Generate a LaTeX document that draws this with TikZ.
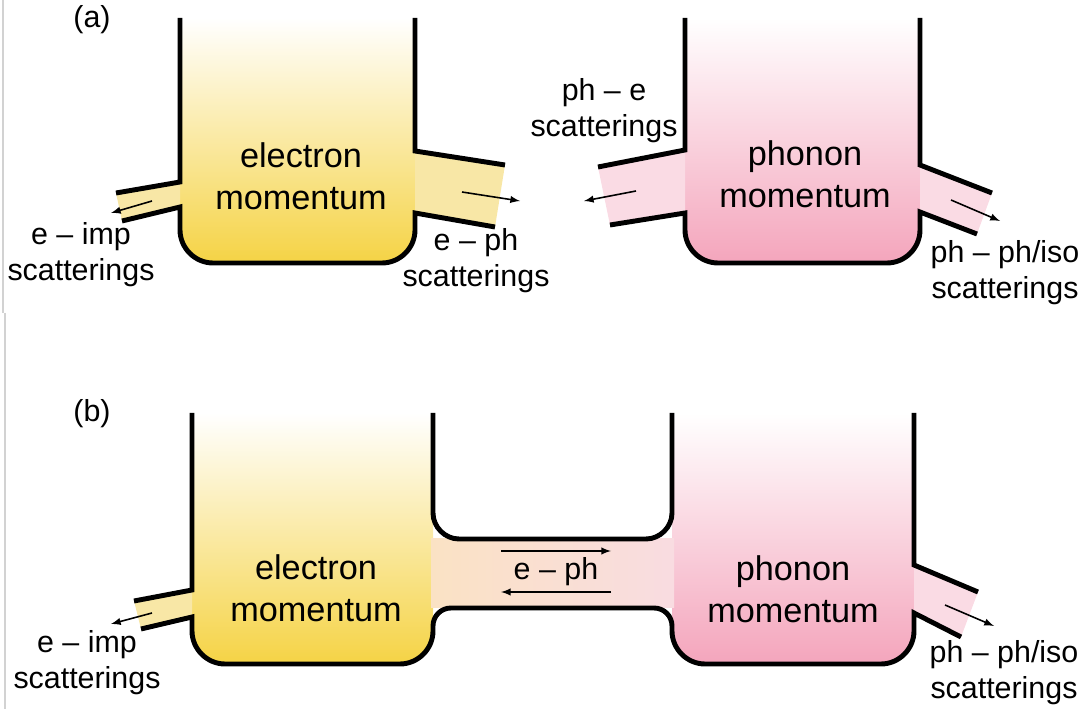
\documentclass[tikz,border=0pt]{standalone}
\usepackage{fontspec}
\setmainfont{Liberation Sans}
\usepackage{tikz}

\definecolor{elecyellow}{HTML}{F5D345}
\definecolor{elecpipe}{HTML}{F8E7A6}
\definecolor{phonpink}{HTML}{F4A5BC}
\definecolor{phonpipe}{HTML}{FADBE4}
\definecolor{chanpeach}{HTML}{FAE2C4}
\definecolor{chanpink}{HTML}{F9DCE1}

\begin{document}
\begin{tikzpicture}[x=0.02cm, y=-0.02cm]
  % Define styles
  \tikzstyle{wall} = [line width=2.8pt, line join=miter]
  \tikzstyle{flow} = [-latex, line width=0.9pt]
  \tikzstyle{bigtext} = [align=center, inner sep=0pt, font=\fontsize{19.5}{24}\selectfont]
  \tikzstyle{smalltext} = [align=center, inner sep=0pt, font=\fontsize{17.3}{20.5}\selectfont]

  \useasboundingbox (0,0) rectangle (1083,709);
  \draw[gray!35, line width=0.6pt] (3,0) -- (3,313);
  \draw[gray!35, line width=0.6pt] (5,313) -- (5,709);

  % (a) electron reservoir
  \shade[top color=white, bottom color=elecyellow] (180,18) -- (180,230) .. controls (180,248) and (195,263) .. (213,263) -- (382,263) .. controls (400,263) and (415,248) .. (415,230) -- (415,18) -- cycle;
  \fill[elecpipe] (180,182) -- (116,193) -- (122,221) -- (180,207) -- cycle;
  \fill[elecpipe] (415,151) -- (505,165) -- (495,227) -- (415,213) -- cycle;

  % (a) phonon reservoir
  \shade[top color=white, bottom color=phonpink] (685,18) -- (685,230) .. controls (685,248) and (700,263) .. (718,263) -- (887,263) .. controls (905,263) and (920,248) .. (920,230) -- (920,18) -- cycle;
  \fill[phonpipe] (685,150) -- (598,167) -- (610,225) -- (685,213) -- cycle;
  \fill[phonpipe] (920,165) -- (992,193) -- (977,234) -- (920,212) -- cycle;

  % (b) reservoirs and channel
  \shade[top color=white, bottom color=elecyellow] (192,413) -- (192,631) .. controls (192,649) and (207,664) .. (225,664) -- (400,664) .. controls (418,664) and (433,649) .. (433,631) -- (433,413) -- cycle;
  \shade[top color=white, bottom color=phonpink] (672,413) -- (672,631) .. controls (672,649) and (687,664) .. (705,664) -- (881,664) .. controls (899,664) and (914,649) .. (914,631) -- (914,413) -- cycle;
  \shade[left color=chanpeach, right color=chanpink] (431,539) rectangle (674,608);
  \fill[elecpipe] (192,590) -- (134,601) -- (141,629) -- (192,617) -- cycle;
  \fill[phonpipe] (914,565) -- (978,592) -- (961,637) -- (914,613) -- cycle;

  % Walls (a)
  \draw[wall] (180,18) -- (180,182) -- (116,193);
  \draw[wall] (122,221) -- (180,207) -- (180,230) .. controls (180,248) and (195,263) .. (213,263) -- (382,263) .. controls (400,263) and (415,248) .. (415,230) -- (415,213) -- (495,227);
  \draw[wall] (415,18) -- (415,151) -- (505,165);
  \draw[wall] (598,167) -- (685,150) -- (685,18);
  \draw[wall] (610,225) -- (685,213) -- (685,230) .. controls (685,248) and (700,263) .. (718,263) -- (887,263) .. controls (905,263) and (920,248) .. (920,230) -- (920,212) -- (977,234);
  \draw[wall] (920,18) -- (920,165) -- (992,193);

  % Walls (b)
  \draw[wall] (192,413) -- (192,590) -- (134,601);
  \draw[wall] (141,629) -- (192,617) -- (192,631) .. controls (192,649) and (207,664) .. (225,664) -- (400,664) .. controls (418,664) and (433,649) .. (433,631) -- (433,626) .. controls (433,616) and (441,608) .. (451,608) -- (654,608) .. controls (664,608) and (672,616) .. (672,626) -- (672,631) .. controls (672,649) and (687,664) .. (705,664) -- (881,664) .. controls (899,664) and (914,649) .. (914,631) -- (914,613) -- (961,637);
  \draw[wall] (433,413) -- (433,513) .. controls (433,527) and (445,539) .. (459,539) -- (646,539) .. controls (660,539) and (672,527) .. (672,513) -- (672,413);
  \draw[wall] (914,413) -- (914,565) -- (978,592);

  % Scattering arrows
  \draw[flow] (152,201) -- (111,213);
  \draw[flow] (462,192) -- (520,201);
  \draw[flow] (636,191) -- (584,201);
  \draw[flow] (951,200) -- (1000,221);
  \draw[flow] (152,613) -- (111,624);
  \draw[flow] (501,551) -- (611,551);
  \draw[flow] (611,592) -- (501,592);
  \draw[flow] (945,605) -- (994,626);

  % Labels (a)
  \node[smalltext] (alabel) at (92,20) {(a)};
  \node[smalltext] (aimp) at (81,255) {e – imp\\scatterings};
  \node[bigtext] (aelec) at (301,176) {electron\\momentum};
  \node[smalltext] (aeph) at (476,261) {e – ph\\scatterings};
  \node[smalltext] (aphe) at (604,111) {ph – e\\scatterings};
  \node[bigtext] (aphon) at (805,174) {phonon\\momentum};
  \node[smalltext] (aphph) at (1005,273) {ph – ph/iso\\scatterings};

  % Labels (b)
  \node[smalltext] (blabel) at (92,414) {(b)};
  \node[smalltext] (bimp) at (87,663) {e – imp\\scatterings};
  \node[bigtext] (belec) at (316,588) {electron\\momentum};
  \node[smalltext] (beph) at (556,572) {e – ph};
  \node[bigtext] (bphon) at (793,589) {phonon\\momentum};
  \node[smalltext] (bphph) at (1004,673) {ph – ph/iso\\scatterings};

\end{tikzpicture}
\end{document}
